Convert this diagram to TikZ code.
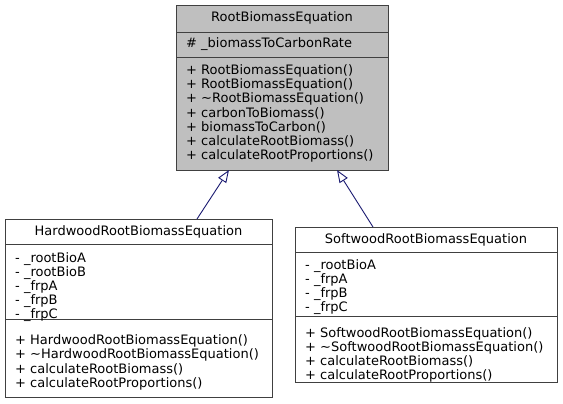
\documentclass[tikz,border=0pt]{standalone}
\usepackage{fontspec}
\setmainfont{DejaVu Sans}
\usetikzlibrary{arrows.meta}
\definecolor{edgegray}{HTML}{404040}
\definecolor{basefill}{HTML}{BFBFBF}
\definecolor{linkblue}{HTML}{191970}
\tikzset{
  umlbox/.style={draw=edgegray, line width=0.9pt, anchor=north west, inner sep=0pt},
  sepline/.style={draw=edgegray, line width=0.9pt},
  txt/.style={anchor=base west, inner sep=0pt, font=\fontsize{13}{14}\selectfont},
  ttl/.style={anchor=base, inner sep=0pt, font=\fontsize{13}{14}\selectfont},
  inherit/.style={draw=linkblue, line width=0.9pt, -{Triangle[open, length=12.5pt, width=9.5pt, fill=white]}}
}
\begin{document}
\begin{tikzpicture}[x=1pt,y=-1pt]
\useasboundingbox (0,0) rectangle (563,404);
% Base class
\node[umlbox, fill=basefill, minimum width=212pt, minimum height=165pt] (base) at (176,5) {};
\draw[sepline] (176,32) -- (388,32);
\draw[sepline] (176,57) -- (388,57);
\node[ttl] (bt) at (282,22) {RootBiomassEquation};
\node[txt] (ba) at (186,47.5) {\# \_biomassToCarbonRate};
\foreach \t [count=\i from 0] in {%
  + RootBiomassEquation(),%
  + RootBiomassEquation(),%
  + \textasciitilde RootBiomassEquation(),%
  + carbonToBiomass(),%
  + biomassToCarbon(),%
  + calculateRootBiomass(),%
  + calculateRootProportions()}
  \node[txt] (bm\i) at (186,{74.5+14.2*\i}) {\t};
% Hardwood
\node[umlbox, fill=white, minimum width=267pt, minimum height=178pt] (hw) at (5,219) {};
\draw[sepline] (5,244) -- (272,244);
\draw[sepline] (5,319) -- (272,319);
\node[ttl] (ht) at (138.5,235.5) {HardwoodRootBiomassEquation};
\foreach \t [count=\i from 0] in {%
  - \_rootBioA, - \_rootBioB, - \_frpA, - \_frpB, - \_frpC}
  \node[txt] (ha\i) at (15,{262.5+14*\i}) {\t};
\foreach \t [count=\i from 0] in {%
  + HardwoodRootBiomassEquation(),%
  + \textasciitilde HardwoodRootBiomassEquation(),%
  + calculateRootBiomass(),%
  + calculateRootProportions()}
  \node[txt] (hm\i) at (15,{344.5+14.3*\i}) {\t};
% Softwood
\node[umlbox, fill=white, minimum width=262pt, minimum height=155pt] (sw) at (295,227) {};
\draw[sepline] (295,252) -- (557,252);
\draw[sepline] (295,316) -- (557,316);
\node[ttl] (st) at (426,243.5) {SoftwoodRootBiomassEquation};
\foreach \t [count=\i from 0] in {%
  - \_rootBioA, - \_frpA, - \_frpB, - \_frpC}
  \node[txt] (sa\i) at (305,{269.5+14*\i}) {\t};
\foreach \t [count=\i from 0] in {%
  + SoftwoodRootBiomassEquation(),%
  + \textasciitilde SoftwoodRootBiomassEquation(),%
  + calculateRootBiomass(),%
  + calculateRootProportions()}
  \node[txt] (sm\i) at (305,{337.5+14*\i}) {\t};
% Inheritance
\coordinate (h1) at (197,219);
\coordinate (b1) at (229,170);
\coordinate (s1) at (373,227);
\coordinate (b2) at (337,170);
\draw[inherit] (h1) -- (b1);
\draw[inherit] (s1) -- (b2);
\end{tikzpicture}
\end{document}
